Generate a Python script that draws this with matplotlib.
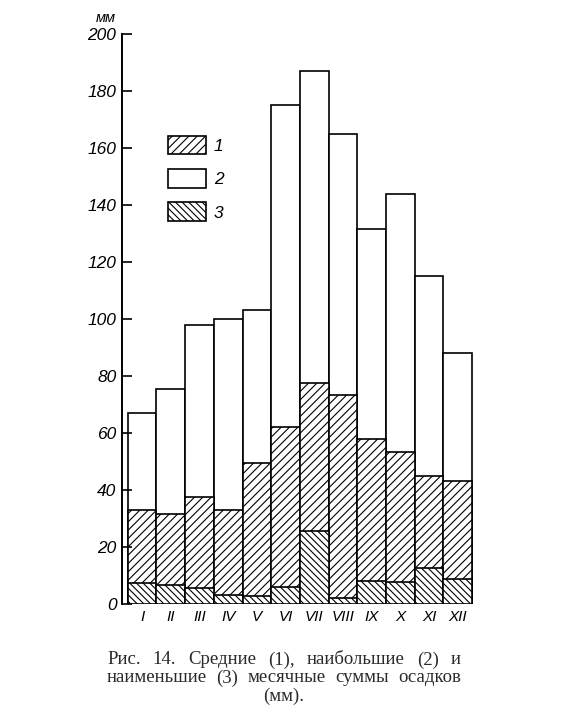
import matplotlib
matplotlib.use("Agg")
import matplotlib.pyplot as plt
import numpy as np

months = ["I", "II", "III", "IV", "V", "VI", "VII", "VIII", "IX", "X", "XI", "XII"]
# 2 - наибольшие, 1 - средние, 3 - наименьшие (мм)
max_mm = [67, 75.5, 98, 100, 103, 175, 187, 165, 131.5, 144, 115, 88]
mean_mm = [33, 31.5, 37.5, 33, 49.5, 62, 77.5, 73.5, 58, 53.5, 45, 43]
min_mm = [7.4, 6.7, 5.7, 3.2, 2.8, 6, 25.6, 2.2, 8.2, 7.7, 12.6, 8.8]
yticks = [0, 20, 40, 60, 80, 100, 120, 140, 160, 180, 200]
legend_labels = ["1", "2", "3"]
caption = ["Рис. 14. Средние (1), наибольшие (2) и",
           "наименьшие (3) месячные суммы осадков",
           "(мм)."]

plt.rcParams["hatch.linewidth"] = 0.8
W, H = 579, 718
fig = plt.figure(figsize=(W / 100, H / 100), dpi=100)
ax = fig.add_axes([122 / W, 1 - 604 / H, 353 / W, 570 / H])

x = np.arange(len(months))
b2 = ax.bar(x, max_mm, width=1, color="white", edgecolor="black", linewidth=1.2)
b1 = ax.bar(x, mean_mm, width=1, color="white", edgecolor="black", linewidth=1.2, hatch="////")
b3 = ax.bar(x, min_mm, width=1, color="white", edgecolor="black", linewidth=1.2, hatch="\\\\\\\\\\")

ax.set_xlim(-0.7, 11.6)
ax.set_ylim(0, 200)
for s in ["top", "right", "bottom"]:
    ax.spines[s].set_visible(False)
ax.spines["left"].set_linewidth(1.4)
ax.set_yticks(yticks)
ax.set_yticklabels([str(v) for v in yticks], fontstyle="italic",
                   family="Liberation Sans", fontsize=12.5)
ax.tick_params(axis="y", direction="in", length=7, width=1.2, pad=4)
ax.set_xticks(x)
ax.set_xticklabels(months, fontstyle="italic", family="Liberation Sans", fontsize=11)
ax.tick_params(axis="x", length=0, pad=4)
fig.text(106 / W, 1 - 18 / H, "мм", fontstyle="italic", family="Liberation Sans",
         fontsize=10.5, ha="center", va="center")

ax.legend([b1, b2, b3], legend_labels, loc="upper left",
          bbox_to_anchor=(168 / W, 1 - 136 / H), bbox_transform=fig.transFigure,
          frameon=False, borderpad=0, borderaxespad=0, handlelength=2.2,
          handleheight=1.26, labelspacing=0.85, handletextpad=0.45,
          prop={"style": "italic", "family": "Liberation Sans", "size": 12.5})

# caption, justified lines
renderer = fig.canvas.get_renderer()
x0, x1 = 107 / W, 461 / W
ys = [660, 678, 696]
for i, line in enumerate(caption):
    y = 1 - ys[i] / H
    if i == len(caption) - 1:
        fig.text(0.5 * (x0 + x1), y, line, family="Liberation Serif", fontsize=13.5,
                 ha="center", va="center", color="#2a2a2a")
        continue
    words = line.split(" ")
    texts = [fig.text(0, y, w, family="Liberation Serif", fontsize=13.5,
                      ha="left", va="center", color="#2a2a2a") for w in words]
    widths = [t.get_window_extent(renderer).width / W for t in texts]
    gap = (x1 - x0 - sum(widths)) / (len(words) - 1)
    pos = x0
    for t, w in zip(texts, widths):
        t.set_x(pos)
        pos += w + gap

fig.savefig("out.png", dpi=100)
